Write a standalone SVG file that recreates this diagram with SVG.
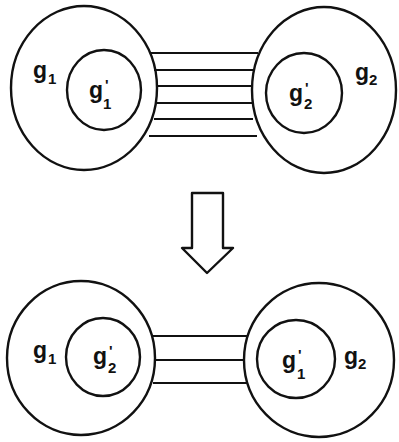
<svg xmlns="http://www.w3.org/2000/svg" width="399" height="442" viewBox="0 0 399 442">
  <style>
    .ring { fill: none; stroke: #111; stroke-width: 2.4; }
    .bond { stroke: #111; stroke-width: 2; fill: none; }
    .lbl { font-family: "Liberation Sans", Arial, sans-serif; font-weight: bold; fill: #111; }
    .g { font-size: 23px; }
    .sub { font-size: 15px; }
    .pr { font-size: 15px; }
  </style>
  <rect width="399" height="442" fill="#fff"/>

  <!-- connectors: bonds between the groups and the transition arrow -->
  <g id="connectors">
    <g id="bonds-top">
      <line class="bond" x1="150" y1="53" x2="258" y2="53"/>
      <line class="bond" x1="154" y1="70" x2="254" y2="70"/>
      <line class="bond" x1="156" y1="86" x2="252" y2="86"/>
      <line class="bond" x1="156" y1="103" x2="252" y2="103"/>
      <line class="bond" x1="154" y1="119" x2="253" y2="119"/>
      <line class="bond" x1="149" y1="136" x2="257" y2="136"/>
    </g>
    <g id="bonds-bottom">
      <line class="bond" x1="152" y1="336" x2="247" y2="336"/>
      <line class="bond" x1="155" y1="360" x2="244" y2="360"/>
      <line class="bond" x1="153" y1="383" x2="247" y2="383"/>
    </g>
    <path id="transition-arrow" d="M192,193 L223,193 L223,248 L233,248 L207,273 L182,248 L192,248 Z" fill="#fff" stroke="#111" stroke-width="2.4" stroke-linejoin="round"/>
  </g>

  <!-- top pair -->
  <g id="g1-top">
    <ellipse class="ring" cx="84" cy="88" rx="73" ry="82"/>
    <text class="lbl g" x="33" y="78">g</text>
    <text class="lbl sub" x="48" y="84">1</text>
  </g>
  <g id="g1p-top">
    <ellipse class="ring" cx="104" cy="90" rx="37" ry="40"/>
    <text class="lbl g" x="89" y="98">g</text>
    <text class="lbl pr" x="105" y="90">'</text>
    <text class="lbl sub" x="103" y="109">1</text>
  </g>
  <g id="g2-top">
    <ellipse class="ring" cx="324" cy="90" rx="72" ry="83"/>
    <text class="lbl g" x="355" y="80">g</text>
    <text class="lbl sub" x="369" y="85">2</text>
  </g>
  <g id="g2p-top">
    <ellipse class="ring" cx="304" cy="93" rx="38" ry="40"/>
    <text class="lbl g" x="289" y="101">g</text>
    <text class="lbl pr" x="305" y="93">'</text>
    <text class="lbl sub" x="304" y="109">2</text>
  </g>

  <!-- bottom pair -->
  <g id="g1-bottom">
    <ellipse class="ring" cx="81" cy="358" rx="74" ry="77"/>
    <text class="lbl g" x="33" y="358">g</text>
    <text class="lbl sub" x="48" y="364">1</text>
  </g>
  <g id="g2p-bottom">
    <ellipse class="ring" cx="103" cy="357" rx="37" ry="39"/>
    <text class="lbl g" x="93" y="364">g</text>
    <text class="lbl pr" x="109" y="356">'</text>
    <text class="lbl sub" x="108" y="373">2</text>
  </g>
  <g id="g2-bottom">
    <ellipse class="ring" cx="319" cy="360" rx="75" ry="77"/>
    <text class="lbl g" x="344" y="364">g</text>
    <text class="lbl sub" x="358" y="369">2</text>
  </g>
  <g id="g1p-bottom">
    <ellipse class="ring" cx="296" cy="359" rx="39" ry="39"/>
    <text class="lbl g" x="282" y="368">g</text>
    <text class="lbl pr" x="298" y="360">'</text>
    <text class="lbl sub" x="297" y="379">1</text>
  </g>
</svg>
